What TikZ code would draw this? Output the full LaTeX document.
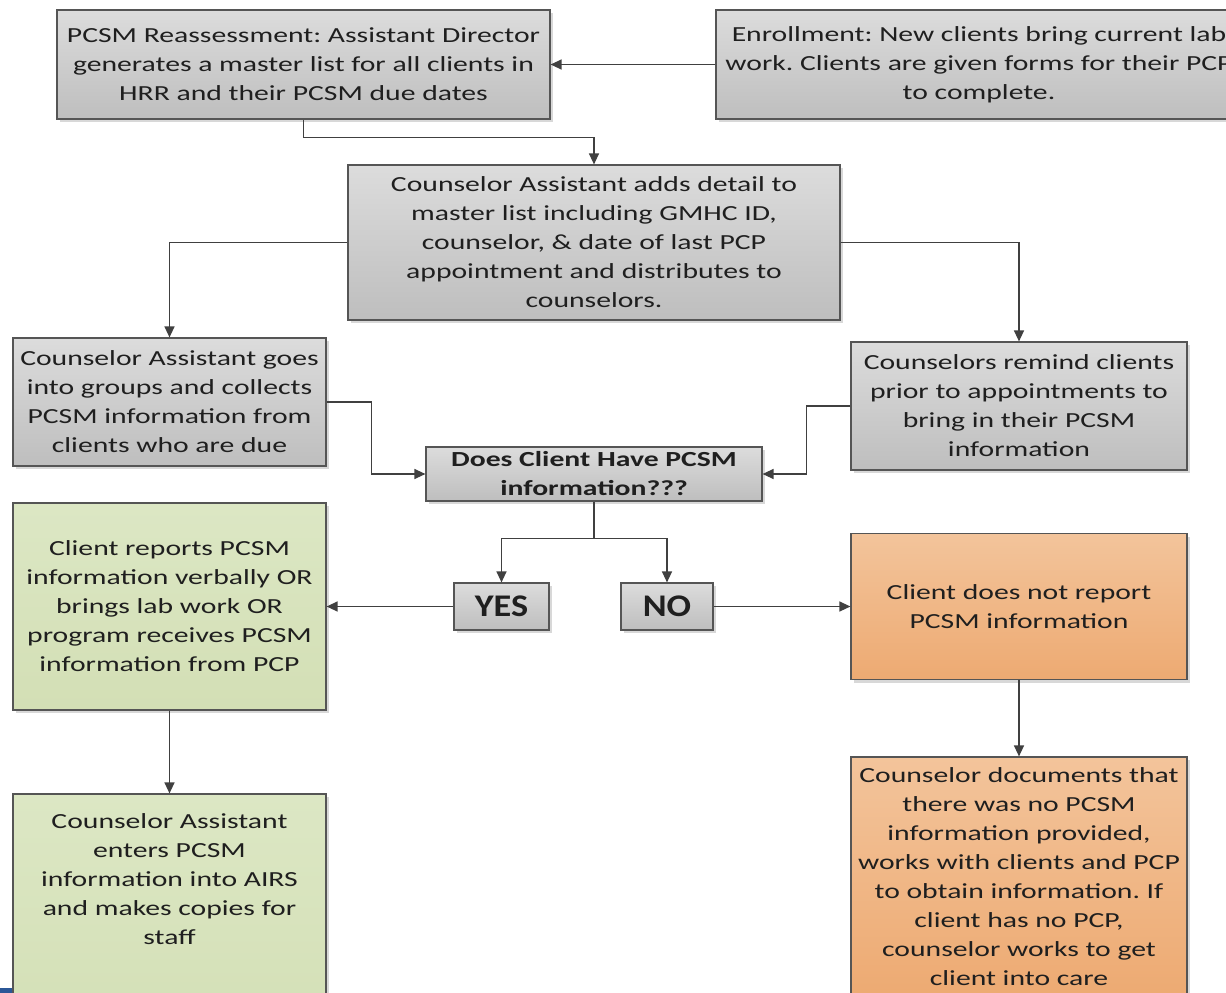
\documentclass[tikz,border=0pt]{standalone}
\usepackage{fontspec}
\setmainfont{Carlito}[FakeStretch=1.38]
\newfontfamily\yesnofont{Carlito}[FakeStretch=1.15]
\frenchspacing
\usetikzlibrary{arrows.meta,shadows}
\definecolor{lineg}{HTML}{555555}
\definecolor{arrg}{HTML}{404040}
\definecolor{graytop}{HTML}{DCDCDC}
\definecolor{graybot}{HTML}{BEBEBE}
\definecolor{greentop}{HTML}{DCE7C4}
\definecolor{greenbot}{HTML}{D3DFB5}
\definecolor{orgtop}{HTML}{F3C49B}
\definecolor{orgbot}{HTML}{EDAA72}
\definecolor{edgeblue}{HTML}{2B5797}
\tikzset{
  box/.style={draw=lineg, line width=1.2pt, inner sep=0pt, align=center,
    font=\fontsize{21.5}{29}\selectfont, text=black!88,
    drop shadow={shadow xshift=3pt, shadow yshift=-3pt, fill=black!30, opacity=0.5}},
  graybox/.style={box, top color=graytop, bottom color=graybot},
  greenbox/.style={box, top color=greentop, bottom color=greenbot},
  orgbox/.style={box, top color=orgtop, bottom color=orgbot},
  boldbox/.style={graybox, font=\bfseries\fontsize{21.5}{29}\selectfont},
  yesno/.style={graybox, font=\yesnofont\bfseries\fontsize{31.5}{33}\selectfont},
  plaintext/.style={inner sep=0pt, align=center, font=\fontsize{21.5}{29}\selectfont, text=black!88},
  arr/.style={draw=arrg, line width=1.3pt, -{Triangle[length=11pt,width=10pt]}}
}
\begin{document}
\begin{tikzpicture}[x=1pt,y=-1pt]
\useasboundingbox (0,0) rectangle (1226,993);
\fill[white] (0,0) rectangle (1226,993);

\node[graybox, minimum width=493pt, minimum height=109pt] (b1) at (303.5,64.5)
  {PCSM Reassessment: Assistant Director\\generates a master list for all clients in\\HRR and their PCSM due dates};
\node[graybox, minimum width=526pt, minimum height=109pt] (b2) at (979,64.5)
  {Enrollment: New clients bring current lab\\work. Clients are given forms for their PCP\\to complete.};
\node[graybox, minimum width=492pt, minimum height=155pt] (b3) at (594,242.5)
  {Counselor Assistant adds detail to\\master list including GMHC ID,\\counselor, \& date of last PCP\\appointment and distributes to\\counselors.};
\node[graybox, minimum width=313pt, minimum height=128pt] (b4) at (169.5,402)
  {Counselor Assistant goes\\into groups and collects\\PCSM information from\\clients who are due};
\node[graybox, minimum width=336pt, minimum height=128pt] (b5) at (1019,406)
  {Counselors remind clients\\prior to appointments to\\bring in their PCSM\\information};
\node[boldbox, minimum width=336pt, minimum height=54pt] (b6) at (594,474)
  {Does Client Have PCSM\\information???};
\node[yesno, minimum width=95pt, minimum height=47pt] (b7) at (501.5,606.5) {YES};
\node[yesno, minimum width=92pt, minimum height=47pt] (b8) at (667,606.5) {NO};
\node[greenbox, minimum width=313pt, minimum height=207pt] (b9) at (169.5,606.5)
  {Client reports PCSM\\information verbally OR\\brings lab work OR\\program receives PCSM\\information from PCP};
\node[orgbox, minimum width=336pt, minimum height=146pt] (b10) at (1019,606.5)
  {Client does not report\\PCSM information};
\node[greenbox, minimum width=313pt, minimum height=260pt] (b11) at (169.5,924) {};
\node[plaintext] (b11t) at (169.5,879)
  {Counselor Assistant\\enters PCSM\\information into AIRS\\and makes copies for\\staff};
\node[orgbox, minimum width=336pt, minimum height=240pt] (b12) at (1019,877)
  {Counselor documents that\\there was no PCSM\\information provided,\\works with clients and PCP\\to obtain information. If\\client has no PCP,\\counselor works to get\\client into care};

\draw[arr] (b2.west) -- (b1.east);
\draw[arr] (b1.south) -- ++(0,18) -| (b3.north);
\draw[arr] (b3.west) -| (b4.north);
\draw[arr] (b3.east) -| (b5.north);
\draw[arr] (b4.east) -- ++(45,0) |- (b6.west);
\draw[arr] (b5.west) -- ++(-44,0) |- (b6.east);
\draw[arr] (b6.south) -- ++(0,37) -| (b7.north);
\draw[arr] (b6.south) -- ++(0,37) -| (b8.north);
\draw[arr] (b7.west) -- (b9.east);
\draw[arr] (b8.east) -- (b10.west);
\draw[arr] (b9.south) -- (b11.north);
\draw[arr] (b10.south) -- (b12.north);

\fill[edgeblue] (0,988) rectangle (12,993);
\end{tikzpicture}
\end{document}
